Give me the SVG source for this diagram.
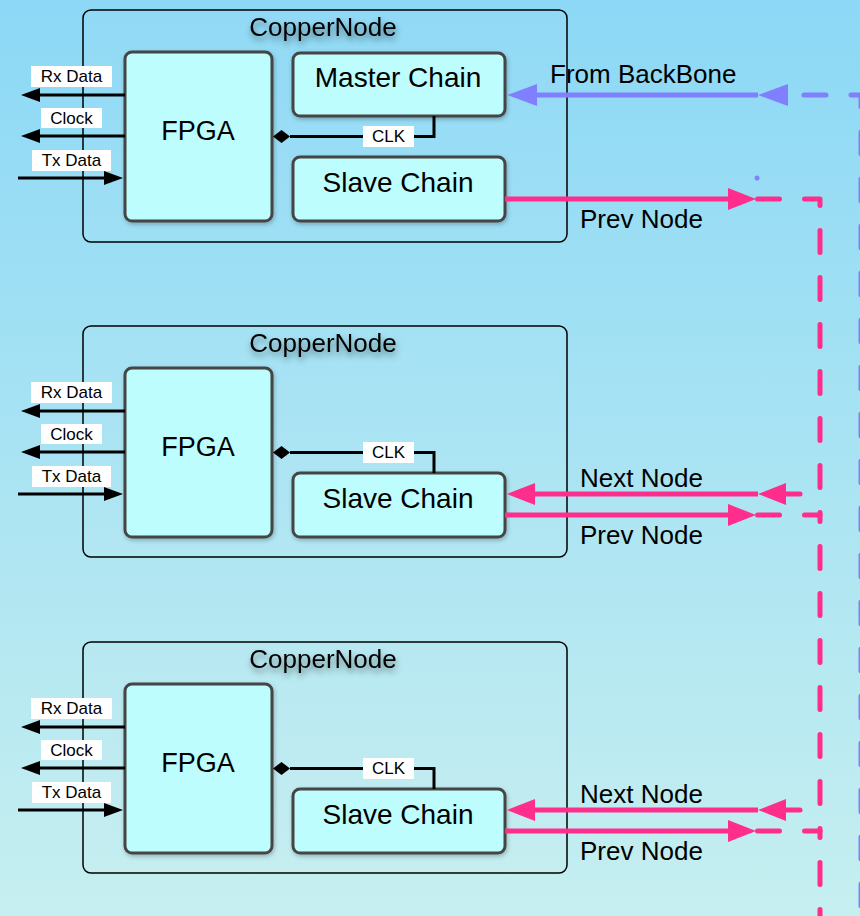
<svg xmlns="http://www.w3.org/2000/svg" width="860" height="916" viewBox="0 0 860 916">
  <defs>
    <linearGradient id="sky" x1="0" y1="0" x2="0" y2="1">
      <stop offset="0" stop-color="#8cd8f6"/>
      <stop offset="1" stop-color="#c6eff0"/>
    </linearGradient>
    <filter id="soft-shadow" x="-10%" y="-10%" width="130%" height="130%">
      <feDropShadow dx="1" dy="2" stdDeviation="2" flood-color="#000" flood-opacity="0.25"/>
    </filter>
    <filter id="title-shadow" x="-20%" y="-50%" width="140%" height="220%">
      <feDropShadow dx="1" dy="4" stdDeviation="3" flood-color="#000" flood-opacity="0.45"/>
    </filter>
    <marker id="arrow-black" markerUnits="userSpaceOnUse" viewBox="0 0 19 14" markerWidth="19" markerHeight="14" refX="0" refY="7" orient="auto" overflow="visible">
      <path d="M0,0 L19,7 L0,14 z" fill="#000"/>
    </marker>
    <marker id="arrow-pink" markerUnits="userSpaceOnUse" viewBox="0 0 28 22" markerWidth="28" markerHeight="22" refX="0" refY="11" orient="auto" overflow="visible">
      <path d="M0,0 L28,11 L0,22 z" fill="#ff2d8c"/>
    </marker>
    <marker id="arrow-blue" markerUnits="userSpaceOnUse" viewBox="0 0 30 22" markerWidth="30" markerHeight="22" refX="0" refY="11" orient="auto" overflow="visible">
      <path d="M0,0 L30,11 L0,22 z" fill="#8080ff"/>
    </marker>
    <marker id="diamond" markerUnits="userSpaceOnUse" viewBox="0 0 17 13" markerWidth="17" markerHeight="13" refX="0" refY="6.5" orient="auto" overflow="visible">
      <path d="M0,6.5 L8.5,0 L17,6.5 L8.5,13 z" fill="#000"/>
    </marker>
  </defs>
  <style>
    text { font-family: "Liberation Sans", Arial, Helvetica, sans-serif; fill: #000; }
    .container { fill: #ffffff; fill-opacity: 0.04; stroke: #000; stroke-width: 1.5; }
    .box { fill: #bdfdfd; stroke: #454545; stroke-width: 3; filter: url(#soft-shadow); }
    .title { font-size: 26px; text-anchor: middle; filter: url(#title-shadow); }
    .box-label { font-size: 28px; text-anchor: middle; }
    .fpga-label { font-size: 27px; text-anchor: middle; }
    .tag { fill: #fff; }
    .tag-label { font-size: 17px; text-anchor: middle; }
    .link-label { font-size: 26px; }
    .wire { fill: none; stroke: #000; stroke-width: 3; }
    .pink { fill: none; stroke: #ff2d8c; stroke-width: 5; }
    .pink-dash { fill: none; stroke: #ff2d8c; stroke-width: 5; stroke-dasharray: 22 25; stroke-linecap: round; stroke-linejoin: round; }
    .blue { fill: none; stroke: #8080ff; stroke-width: 5; }
    .blue-dash { fill: none; stroke: #8080ff; stroke-width: 5; stroke-dasharray: 22 25; stroke-linecap: round; stroke-linejoin: round; }
    .head-only { fill: none; stroke: none; }
  </style>

  <rect x="0" y="0" width="860" height="916" fill="url(#sky)"/>

  <!-- Node 1: copper node with master and slave chains -->
  <g id="copper-node-1">
    <rect class="container" x="83" y="10" width="484" height="232" rx="8"/>
    <text class="title" x="323" y="36">CopperNode</text>
    <g id="fpga-1">
      <rect class="box" x="125" y="52" width="147" height="169" rx="7"/>
      <text class="fpga-label" x="198" y="140">FPGA</text>
    </g>
    <g id="master-chain-1">
      <rect class="box" x="293" y="53" width="212" height="63" rx="7"/>
      <text class="box-label" x="398" y="87">Master Chain</text>
    </g>
    <g id="slave-chain-1">
      <rect class="box" x="293" y="157" width="212" height="64" rx="7"/>
      <text class="box-label" x="398" y="192">Slave Chain</text>
    </g>
  </g>

  <!-- Node 2: copper node with slave chain -->
  <g id="copper-node-2">
    <rect class="container" x="83" y="326" width="484" height="231" rx="8"/>
    <text class="title" x="323" y="352">CopperNode</text>
    <g id="fpga-2">
      <rect class="box" x="125" y="368" width="147" height="169" rx="7"/>
      <text class="fpga-label" x="198" y="456">FPGA</text>
    </g>
    <g id="slave-chain-2">
      <rect class="box" x="293" y="473" width="212" height="64" rx="7"/>
      <text class="box-label" x="398" y="508">Slave Chain</text>
    </g>
  </g>

  <!-- Node 3: copper node with slave chain -->
  <g id="copper-node-3">
    <rect class="container" x="83" y="642" width="484" height="231" rx="8"/>
    <text class="title" x="323" y="668">CopperNode</text>
    <g id="fpga-3">
      <rect class="box" x="125" y="684" width="147" height="169" rx="7"/>
      <text class="fpga-label" x="198" y="772">FPGA</text>
    </g>
    <g id="slave-chain-3">
      <rect class="box" x="293" y="789" width="212" height="64" rx="7"/>
      <text class="box-label" x="398" y="824">Slave Chain</text>
    </g>
  </g>

  <g id="connectors">
    <!-- FPGA I/O, node 1 -->
    <path class="wire" d="M125,95 H40" marker-end="url(#arrow-black)"/>
    <path class="wire" d="M125,136 H40" marker-end="url(#arrow-black)"/>
    <path class="wire" d="M18,178 H104" marker-end="url(#arrow-black)"/>
    <!-- FPGA I/O, node 2 -->
    <path class="wire" d="M125,411 H40" marker-end="url(#arrow-black)"/>
    <path class="wire" d="M125,452 H40" marker-end="url(#arrow-black)"/>
    <path class="wire" d="M18,494 H104" marker-end="url(#arrow-black)"/>
    <!-- FPGA I/O, node 3 -->
    <path class="wire" d="M125,727 H40" marker-end="url(#arrow-black)"/>
    <path class="wire" d="M125,768 H40" marker-end="url(#arrow-black)"/>
    <path class="wire" d="M18,810 H104" marker-end="url(#arrow-black)"/>

    <!-- Clock from chain to FPGA -->
    <path class="wire" d="M434,116 V136.5 H290" marker-end="url(#diamond)"/>
    <path class="wire" d="M434,473 V452.5 H290" marker-end="url(#diamond)"/>
    <path class="wire" d="M434,789 V768.5 H290" marker-end="url(#diamond)"/>

    <!-- Backbone link into the master chain -->
    <path class="blue-dash" d="M804,95 H861 V916"/>
    <path class="head-only" d="M789,95 H788" marker-end="url(#arrow-blue)"/>
    <path class="blue" d="M758,95 H537" marker-end="url(#arrow-blue)"/>
    <circle cx="757" cy="178" r="2.5" fill="#8080ff"/>

    <!-- Chain links between nodes -->
    <path class="pink" d="M505,199 H728" marker-end="url(#arrow-pink)"/>
    <path class="pink-dash" d="M757.5,199 H820 V515"/>

    <path class="pink" d="M800,494 H786" stroke-linecap="round" marker-end="url(#arrow-pink)"/>
    <path class="pink" d="M758,494 H535" marker-end="url(#arrow-pink)"/>
    <path class="pink" d="M505,515 H728" marker-end="url(#arrow-pink)"/>
    <path class="pink-dash" d="M757.5,515 H820 V831"/>

    <path class="pink" d="M800,810 H786" stroke-linecap="round" marker-end="url(#arrow-pink)"/>
    <path class="pink" d="M758,810 H535" marker-end="url(#arrow-pink)"/>
    <path class="pink" d="M505,831 H728" marker-end="url(#arrow-pink)"/>
    <path class="pink-dash" d="M757.5,831 H820 V916"/>
  </g>

  <g id="labels">
    <!-- signal tags, node 1 -->
    <rect class="tag" x="31" y="66" width="81" height="21"/>
    <text class="tag-label" x="71.5" y="82">Rx Data</text>
    <rect class="tag" x="41" y="108" width="61" height="20"/>
    <text class="tag-label" x="71.5" y="124">Clock</text>
    <rect class="tag" x="32" y="150" width="79" height="21"/>
    <text class="tag-label" x="71.5" y="166">Tx Data</text>
    <rect class="tag" x="363" y="126" width="51" height="21"/>
    <text class="tag-label" x="388.5" y="142">CLK</text>

    <!-- signal tags, node 2 -->
    <rect class="tag" x="31" y="382" width="81" height="21"/>
    <text class="tag-label" x="71.5" y="398">Rx Data</text>
    <rect class="tag" x="41" y="424" width="61" height="20"/>
    <text class="tag-label" x="71.5" y="440">Clock</text>
    <rect class="tag" x="32" y="466" width="79" height="21"/>
    <text class="tag-label" x="71.5" y="482">Tx Data</text>
    <rect class="tag" x="363" y="442" width="51" height="21"/>
    <text class="tag-label" x="388.5" y="458">CLK</text>

    <!-- signal tags, node 3 -->
    <rect class="tag" x="31" y="698" width="81" height="21"/>
    <text class="tag-label" x="71.5" y="714">Rx Data</text>
    <rect class="tag" x="41" y="740" width="61" height="20"/>
    <text class="tag-label" x="71.5" y="756">Clock</text>
    <rect class="tag" x="32" y="782" width="79" height="21"/>
    <text class="tag-label" x="71.5" y="798">Tx Data</text>
    <rect class="tag" x="363" y="758" width="51" height="21"/>
    <text class="tag-label" x="388.5" y="774">CLK</text>

    <!-- link names -->
    <text class="link-label" x="550" y="83">From BackBone</text>
    <text class="link-label" x="580" y="228">Prev Node</text>
    <text class="link-label" x="580" y="487">Next Node</text>
    <text class="link-label" x="580" y="544">Prev Node</text>
    <text class="link-label" x="580" y="803">Next Node</text>
    <text class="link-label" x="580" y="860">Prev Node</text>
  </g>
</svg>
